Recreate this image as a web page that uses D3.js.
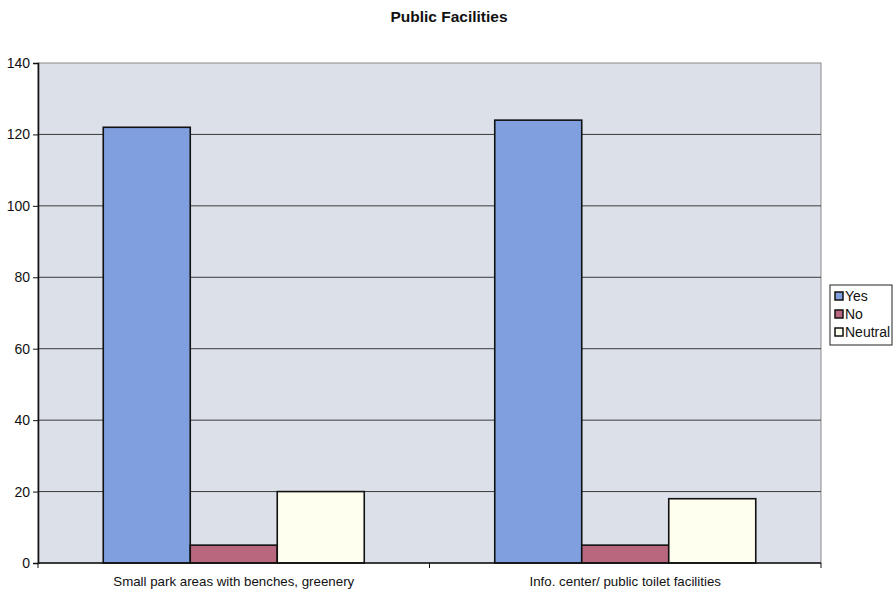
<!DOCTYPE html>
<html>
<head>
<meta charset="utf-8">
<script src="https://cdn.jsdelivr.net/npm/d3@7"></script>
<style>
  html, body { margin: 0; padding: 0; background: #fff; }
  svg { display: block; }
  text { font-family: Arial, "Liberation Sans", sans-serif; fill: #111; }
</style>
</head>
<body>
<svg id="chart" width="893" height="596"></svg>
<script>
// Survey responses per facility
const categories = ["Small park areas with benches, greenery", "Info. center/ public toilet facilities"];
const seriesNames = ["Yes", "No", "Neutral"];
const yesValues = [122, 124];
const noValues = [5, 5];
const neutralValues = [20, 18];
const yTicks = [0, 20, 40, 60, 80, 100, 120, 140];
const seriesColors = ["#7f9fdf", "#b9677f", "#fffff0"];

const seriesValues = [yesValues, noValues, neutralValues];

const svg = d3.select("#chart");
const margin = { left: 38, right: 72, top: 63, bottom: 33 };
const W = 893, H = 596;
const plotW = W - margin.left - margin.right;
const plotH = H - margin.top - margin.bottom;

const x0 = d3.scaleBand().domain(categories).range([0, plotW]).paddingInner(0).paddingOuter(0);
// gap of 150% of one bar width split across each cluster
const inner = 3 / 4.5;
const x1 = d3.scaleBand().domain(seriesNames)
  .range([x0.bandwidth() * (1 - inner) / 2, x0.bandwidth() * (1 + inner) / 2]);
const y = d3.scaleLinear().domain([0, 140]).range([plotH, 0]);

// Title
svg.append("text")
  .attr("x", 449).attr("y", 22)
  .attr("text-anchor", "middle")
  .style("font-size", "15.5px").style("font-weight", "bold")
  .text("Public Facilities");

const g = svg.append("g").attr("transform", `translate(${margin.left},${margin.top})`);

// Plot area background
g.append("rect")
  .attr("width", plotW).attr("height", plotH)
  .attr("fill", "#dce0e9").attr("stroke", "#8a8a8a").attr("stroke-width", 1);

// Horizontal gridlines
g.append("g").selectAll("line")
  .data(yTicks.filter(t => t > 0 && t < 140))
  .join("line")
  .attr("x1", 0).attr("x2", plotW)
  .attr("y1", d => y(d)).attr("y2", d => y(d))
  .attr("stroke", "#3a3a3a").attr("stroke-width", 1);

// Bars
const groups = g.append("g").selectAll("g")
  .data(categories)
  .join("g")
  .attr("transform", d => `translate(${x0(d)},0)`);

groups.selectAll("rect")
  .data((c, ci) => seriesNames.map((s, si) => ({ s, si, v: seriesValues[si][ci] })))
  .join("rect")
  .attr("x", d => x1(d.s))
  .attr("width", x1.bandwidth())
  .attr("y", d => y(d.v))
  .attr("height", d => y(0) - y(d.v))
  .attr("fill", d => seriesColors[d.si])
  .attr("stroke", "#111").attr("stroke-width", 1.6);

// Y axis
const yAxis = g.append("g")
  .call(d3.axisLeft(y).tickValues(yTicks).tickSize(5).tickPadding(3).tickFormat(d3.format("d")));
yAxis.select(".domain").attr("stroke", "#111").attr("stroke-width", 1.6);
yAxis.selectAll(".tick line").attr("stroke", "#111");
yAxis.selectAll("text").style("font-size", "14px").attr("fill", "#111");

// X axis with ticks at category boundaries
const xAxisG = g.append("g").attr("transform", `translate(0,${plotH})`);
xAxisG.append("line").attr("x1", 0).attr("x2", plotW).attr("stroke", "#111").attr("stroke-width", 1.6);
const boundaries = categories.map(c => x0(c)).concat([plotW]);
xAxisG.selectAll("line.tk").data(boundaries).join("line")
  .attr("class", "tk")
  .attr("x1", d => d).attr("x2", d => d).attr("y1", 0).attr("y2", 5)
  .attr("stroke", "#111");
xAxisG.selectAll("text").data(categories).join("text")
  .attr("x", d => x0(d) + x0.bandwidth() / 2)
  .attr("y", 23)
  .attr("text-anchor", "middle")
  .style("font-size", "13.3px")
  .text(d => d);

// Legend
const lg = svg.append("g").attr("transform", "translate(830,285)");
lg.append("rect").attr("width", 62).attr("height", 60)
  .attr("fill", "#fff").attr("stroke", "#222").attr("stroke-width", 1);
const items = lg.selectAll("g").data(seriesNames).join("g")
  .attr("transform", (d, i) => `translate(5,${11 + i * 18})`);
items.append("rect").attr("x", 0).attr("y", -4).attr("width", 8).attr("height", 8)
  .attr("fill", (d, i) => seriesColors[i]).attr("stroke", "#111").attr("stroke-width", 1.5);
items.append("text").attr("x", 10).attr("y", 5)
  .style("font-size", "14px").text(d => d);
</script>
</body>
</html>
